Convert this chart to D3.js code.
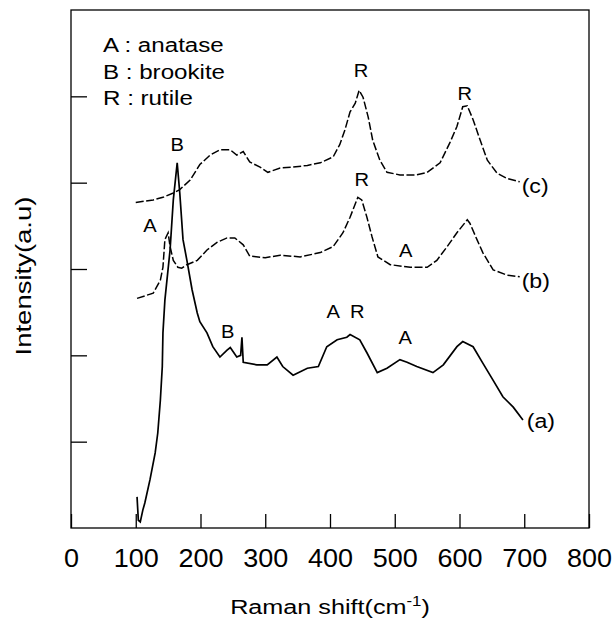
<!DOCTYPE html>
<html>
<head>
<meta charset="utf-8">
<script src="https://cdn.jsdelivr.net/npm/d3@7"></script>
<style>
  body { margin: 0; background: #fff; }
  text { font-family: "Liberation Sans", Arial, sans-serif; fill: #000; }
</style>
</head>
<body>
<div id="chart"></div>
<script>
const W = 615
const H = 619
const margin = {'top': 10, 'right': 26, 'bottom': 91, 'left': 71}

// raman spectra, [shift cm-1, intensity a.u.]
const seriesA = [[102,0.36],[104,0.09],[107,0.07],[111,0.21],[114,0.29],[122,0.56],[130,0.87],[134,1.10],[138,1.48],[141,1.87],[142,2.26],[145,2.64],[153,3.22],[158,3.80],[164,4.23],[168,3.88],[173,3.34],[179,3.10],[187,2.76],[195,2.49],[199,2.39],[210,2.26],[219,2.10],[230,1.98],[241,2.06],[246,2.09],[256,1.98],[262,2.00],[264,2.21],[266,1.92],[287,1.89],[303,1.89],[318,1.98],[327,1.87],[343,1.77],[365,1.85],[382,1.87],[395,2.10],[411,2.18],[426,2.21],[431,2.24],[446,2.18],[457,2.03],[473,1.80],[488,1.85],[508,1.95],[519,1.92],[534,1.87],[559,1.80],[575,1.89],[596,2.10],[605,2.16],[621,2.10],[636,1.91],[652,1.71],[667,1.52],[683,1.40],[698,1.25]]
const seriesB = [[102,2.66],[127,2.72],[138,2.87],[142,3.02],[145,3.34],[150,3.42],[153,3.26],[158,3.10],[165,3.02],[171,3.01],[179,3.05],[195,3.10],[210,3.22],[226,3.31],[241,3.36],[253,3.36],[266,3.28],[276,3.15],[300,3.13],[323,3.16],[354,3.14],[385,3.19],[405,3.26],[420,3.42],[431,3.60],[443,3.83],[449,3.80],[457,3.60],[465,3.37],[474,3.14],[493,3.05],[524,3.02],[550,3.02],[565,3.10],[581,3.26],[596,3.42],[612,3.57],[616,3.53],[627,3.34],[636,3.19],[652,2.99],[673,2.93],[693,2.91]]
const seriesC = [[100,3.77],[127,3.80],[142,3.83],[158,3.88],[168,3.92],[184,4.03],[199,4.21],[215,4.32],[230,4.38],[246,4.38],[256,4.32],[266,4.36],[276,4.24],[292,4.18],[304,4.12],[323,4.17],[343,4.18],[365,4.20],[385,4.23],[405,4.30],[415,4.44],[423,4.61],[431,4.82],[439,4.92],[445,5.07],[451,4.99],[459,4.76],[466,4.49],[477,4.26],[488,4.12],[508,4.09],[534,4.09],[550,4.12],[570,4.23],[585,4.46],[596,4.65],[605,4.88],[612,4.89],[621,4.73],[632,4.49],[643,4.26],[658,4.11],[673,4.05],[693,4.01]]

const xTicks = [0, 100, 200, 300, 400, 500, 600, 700, 800]
const yTicks = [1, 2, 3, 4, 5]
const legendLines = ['A : anatase', 'B : brookite', 'R : rutile']
const peakLabels = [
	{'t': 'B', 'x': 164, 'y': 4.37}, {'t': 'A', 'x': 122, 'y': 3.43},
	{'t': 'R', 'x': 448, 'y': 5.22}, {'t': 'R', 'x': 608, 'y': 4.96},
	{'t': 'R', 'x': 449, 'y': 3.96}, {'t': 'A', 'x': 517, 'y': 3.14},
	{'t': 'B', 'x': 242, 'y': 2.20}, {'t': 'A', 'x': 405, 'y': 2.43},
	{'t': 'R', 'x': 442, 'y': 2.43}, {'t': 'A', 'x': 516, 'y': 2.13}
]
const seriesLabels = [{'t': '(c)', 'x': 696, 'y': 3.88}, {'t': '(b)', 'x': 696, 'y': 2.78}, {'t': '(a)', 'x': 704, 'y': 1.16}]

const gw = W - margin.left - margin.right
const gh = H - margin.top - margin.bottom

const svg = d3.select('#chart')
	.append('svg')
	.attr('width', W)
	.attr('height', H);

const graph = svg.append('g')
	.attr('transform', `translate(${margin.left}, ${margin.top})`);

const x = d3.scaleLinear().domain([0, 800]).range([0, gw]);
const y = d3.scaleLinear().domain([0, 6]).range([gh, 0]);

// stretched text, the scan is wider than the font
function addText(g, px, py, str, size, sx, anchor) {
	return g.append('text')
		.attr('transform', `translate(${px}, ${py}) scale(${sx}, 1)`)
		.attr('font-size', size)
		.attr('text-anchor', anchor || 'start')
		.text(str);
}

// axes
const xAxisGroup = graph.append('g')
	.attr('transform', `translate(0, ${gh})`)
	.call(d3.axisBottom(x).tickValues(xTicks).tickSizeInner(-14).tickSizeOuter(0).tickPadding(21));
xAxisGroup.selectAll('text')
	.attr('font-size', 25)
	.attr('transform', 'scale(1.08, 1)');

const yAxisGroup = graph.append('g')
	.call(d3.axisLeft(y).tickValues(yTicks).tickSizeInner(-16).tickSizeOuter(0).tickFormat(''));

graph.selectAll('.domain').remove();
graph.selectAll('.tick line').attr('stroke', '#000').attr('stroke-width', 1.3);

// frame
graph.append('rect')
	.attr('width', gw)
	.attr('height', gh)
	.attr('fill', 'none')
	.attr('stroke', '#000')
	.attr('stroke-width', 1.3);

// spectra
const line = d3.line()
	.x(d => x(d[0]))
	.y(d => y(d[1]));

graph.append('path')
	.datum(seriesA)
	.attr('d', line)
	.attr('fill', 'none')
	.attr('stroke', '#000')
	.attr('stroke-width', 1.7);

[seriesB, seriesC].forEach(s => {
	graph.append('path')
		.datum(s)
		.attr('d', line)
		.attr('fill', 'none')
		.attr('stroke', '#000')
		.attr('stroke-width', 1.5)
		.attr('stroke-dasharray', '8,2.5');
});

// annotations
legendLines.forEach((t, i) => addText(graph, 32, 42 + i * 26.5, t, 21, 1.15));
peakLabels.forEach(p => addText(graph, x(p.x), y(p.y), p.t, 18, 1.12, 'middle'));
seriesLabels.forEach(p => addText(graph, x(p.x), y(p.y), p.t, 21, 1.1));

// axis titles
const xTitle = svg.append('text')
	.attr('transform', `translate(${margin.left + gw / 2}, 614) scale(1.2, 1)`)
	.attr('font-size', 21)
	.attr('text-anchor', 'middle');
xTitle.append('tspan').text('Raman shift(cm');
xTitle.append('tspan').attr('font-size', 14).attr('dy', -8).text('-1');
xTitle.append('tspan').attr('dy', 8).text(')');

svg.append('text')
	.attr('transform', `translate(31, 276) rotate(-90) scale(1.25, 1)`)
	.attr('font-size', 22)
	.attr('text-anchor', 'middle')
	.text('Intensity(a.u)');
</script>
</body>
</html>
